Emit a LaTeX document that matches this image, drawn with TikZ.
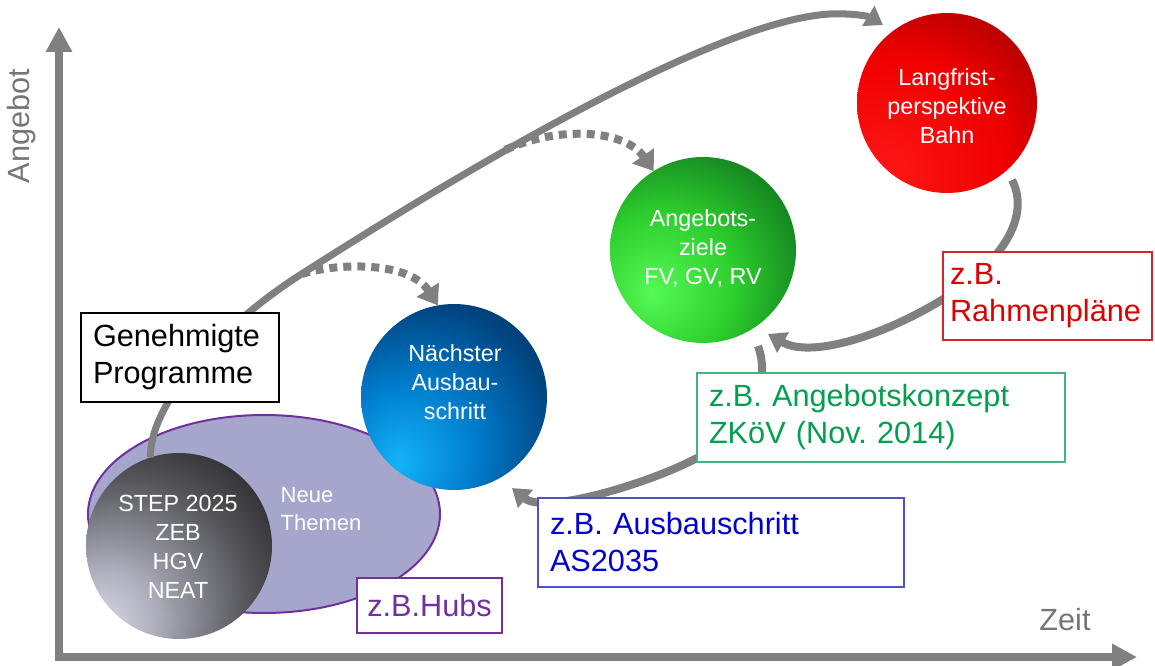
\documentclass[tikz,border=0pt]{standalone}
\usepackage{fontspec}
\setmainfont{Liberation Sans}
\usetikzlibrary{arrows.meta,shapes.geometric}
\frenchspacing
\definecolor{arrowgray}{RGB}{128,128,128}
\definecolor{labelgray}{RGB}{118,118,118}
\definecolor{lav}{RGB}{166,166,204}
\definecolor{purp}{RGB}{112,48,160}
\definecolor{gtext}{RGB}{0,160,80}
\definecolor{gborder}{RGB}{70,180,120}
\definecolor{btext}{RGB}{0,0,210}
\definecolor{bborder}{RGB}{80,80,200}
\definecolor{rtext}{RGB}{220,0,0}
\definecolor{rborder}{RGB}{210,40,40}
% ball colours
\definecolor{gA}{RGB}{226,226,238}
\definecolor{gB}{RGB}{175,175,190}
\definecolor{gC}{RGB}{85,85,90}
\definecolor{gD}{RGB}{28,28,30}
\definecolor{bA}{RGB}{20,180,250}
\definecolor{bB}{RGB}{0,125,205}
\definecolor{bC}{RGB}{0,70,130}
\definecolor{bD}{RGB}{5,35,70}
\definecolor{grA}{RGB}{85,250,85}
\definecolor{grB}{RGB}{45,205,45}
\definecolor{grC}{RGB}{15,120,30}
\definecolor{grD}{RGB}{0,60,10}
\definecolor{rA}{RGB}{255,25,25}
\definecolor{rB}{RGB}{240,0,0}
\definecolor{rC}{RGB}{165,0,0}
\definecolor{rD}{RGB}{70,0,0}
\pgfdeclareradialshading{grayball}{\pgfpoint{-24bp}{-24bp}}{color(0bp)=(gA); color(14bp)=(gB); color(34bp)=(gC); color(52bp)=(gD); color(100bp)=(gD)}
\pgfdeclareradialshading{blueball}{\pgfpoint{-15bp}{-18bp}}{color(0bp)=(bA); color(18bp)=(bB); color(36bp)=(bC); color(54bp)=(bD); color(100bp)=(bD)}
\pgfdeclareradialshading{greenball}{\pgfpoint{-14bp}{-12bp}}{color(0bp)=(grA); color(20bp)=(grB); color(40bp)=(grC); color(58bp)=(grD); color(100bp)=(grD)}
\pgfdeclareradialshading{redball}{\pgfpoint{-20bp}{-24bp}}{color(0bp)=(rA); color(30bp)=(rB); color(48bp)=(rC); color(62bp)=(rD); color(100bp)=(rD)}
\newcommand\myboxfont{\fontsize{23pt}{27.75pt}\selectfont}
\newcommand\mycircfont{\fontsize{17.5pt}{21.75pt}\selectfont}
\newcommand\myaxfont{\fontsize{23pt}{27pt}\selectfont}
\begin{document}
\begin{tikzpicture}[x=0.75pt,y=0.75pt,
  axisline/.style={draw=arrowgray, line width=6pt, line join=miter},
  axislabel/.style={text=labelgray, font=\myaxfont, inner sep=0pt},
  ball/.style={circle, shade, minimum size=139.5pt, inner sep=0pt, outer sep=0pt},
  balltext/.style={text=white, align=center, font=\mycircfont, inner sep=0pt},
  gbox/.style={draw, fill=white, line width=0.9pt, inner xsep=9pt, inner ysep=0pt, align=left, font=\myboxfont},
  bigarrow/.style={draw=arrowgray, line width=5.25pt, -{Triangle[length=13pt,width=17pt]}},
  looparrow/.style={draw=arrowgray, line width=6pt, -{Triangle[length=13pt,width=17pt]}},
  dotarrow/.style={draw=arrowgray, line width=6pt, dash pattern=on 6pt off 4.5pt, -{Triangle[length=14pt,width=19pt]}}
]
\useasboundingbox (0,0) rectangle (1155,-666);

% axes
\coordinate (ytip) at (59,-27);
\coordinate (origin) at (59,-657);
\coordinate (xtip) at (1137,-657);
\draw[axisline, {Triangle[length=18.75pt,width=18.75pt]}-{Triangle[length=18.75pt,width=18.75pt]}] (ytip) -- (origin) -- (xtip);
\node[axislabel, rotate=90] (ylab) at (22,-126) {Angebot};
\node[axislabel] (xlab) at (1065,-620) {Zeit};

% ellipse "Neue Themen"
\node[ellipse, fill=lav, draw=purp, line width=1.5pt, minimum width=264pt, minimum height=148.5pt, inner sep=0pt] (themen) at (264,-514) {};

% ball positions
\coordinate (grayc) at (179,-546);
\coordinate (bluec) at (454,-397);
\coordinate (greenc) at (703,-250);
\coordinate (redc) at (947,-103);

% big arrow
\node[ball, shading=grayball] (gray) at (grayc) {};
\coordinate (redin) at (883,-25);
\draw[bigarrow] (gray.108) .. controls (150,-400) and (225,-323) .. (300,-275)
  .. controls (480,-160) and (720,-20) .. (830,-14)
  .. controls (855,-13) and (870,-17) .. (redin);

% other balls and dotted arrows
\node[ball, shading=blueball] (blue) at (bluec) {};
\node[ball, shading=greenball] (green) at (greenc) {};
\node[ball, shading=redball, minimum size=135pt] (red) at (redc) {};
\coordinate (d1s) at (302,-274);
\coordinate (d2s) at (505,-150);
\draw[dotarrow] (d1s) .. controls (340,-262) and (410,-262) .. (blue.100);
\draw[dotarrow] (d2s) .. controls (560,-125) and (625,-130) .. (green.122);

% loop arrows
\coordinate (redout) at (1012,-180);
\coordinate (greenin) at (768,-334);
\draw[looparrow] (redout) .. controls (1030,-215) and (1005,-260) .. (945,-298)
  .. controls (880,-338) and (810,-358) .. (greenin);
\coordinate (greenout) at (758,-346);
\coordinate (bluein) at (512,-488);
\draw[looparrow] (greenout) .. controls (772,-385) and (750,-430) .. (697,-458)
  .. controls (650,-483) and (545,-515) .. (bluein);

% boxes
\node[gbox, draw=black, text=black, text width=130.5pt, minimum height=66.75pt] (gen) at (180,-357.5) {Genehmigte\\Programme};
\node[gbox, draw=gborder, text=gtext, text width=258pt, minimum height=66.75pt] (gbx) at (881,-417.5) {z.B. Angebotskonzept\\ZKöV (Nov. 2014)};
\node[gbox, draw=bborder, text=btext, text width=256.5pt, minimum height=66.75pt] (bbx) at (721,-542.5) {z.B. Ausbauschritt\\AS2035};
\node[gbox, draw=rborder, text=rtext, inner xsep=5.25pt, text width=146.25pt, minimum height=66pt] (rbx) at (1047.5,-296) {z.B.\\Rahmenpläne};
\node[gbox, draw=purp, text=purp, inner xsep=0pt, align=center, minimum width=108.75pt, minimum height=41.25pt] (hubs) at (429.5,-605.5) {z.B.Hubs};

% texts
\node[text=white, align=left, font=\fontsize{16.5pt}{21pt}\selectfont, inner sep=0pt] (neue) at (321,-509) {Neue\\Themen};
\node[balltext] (graytxt) at (178,-547) {STEP 2025\\ZEB\\HGV\\NEAT};
\node[balltext] (bluetxt) at (455,-382) {Nächster\\Ausbau-\\schritt};
\node[balltext] (greentxt) at (703,-249) {Angebots-\\ziele\\FV, GV, RV};
\node[balltext] (redtxt) at (947,-106) {Langfrist-\\perspektive\\Bahn};
\end{tikzpicture}
\end{document}
